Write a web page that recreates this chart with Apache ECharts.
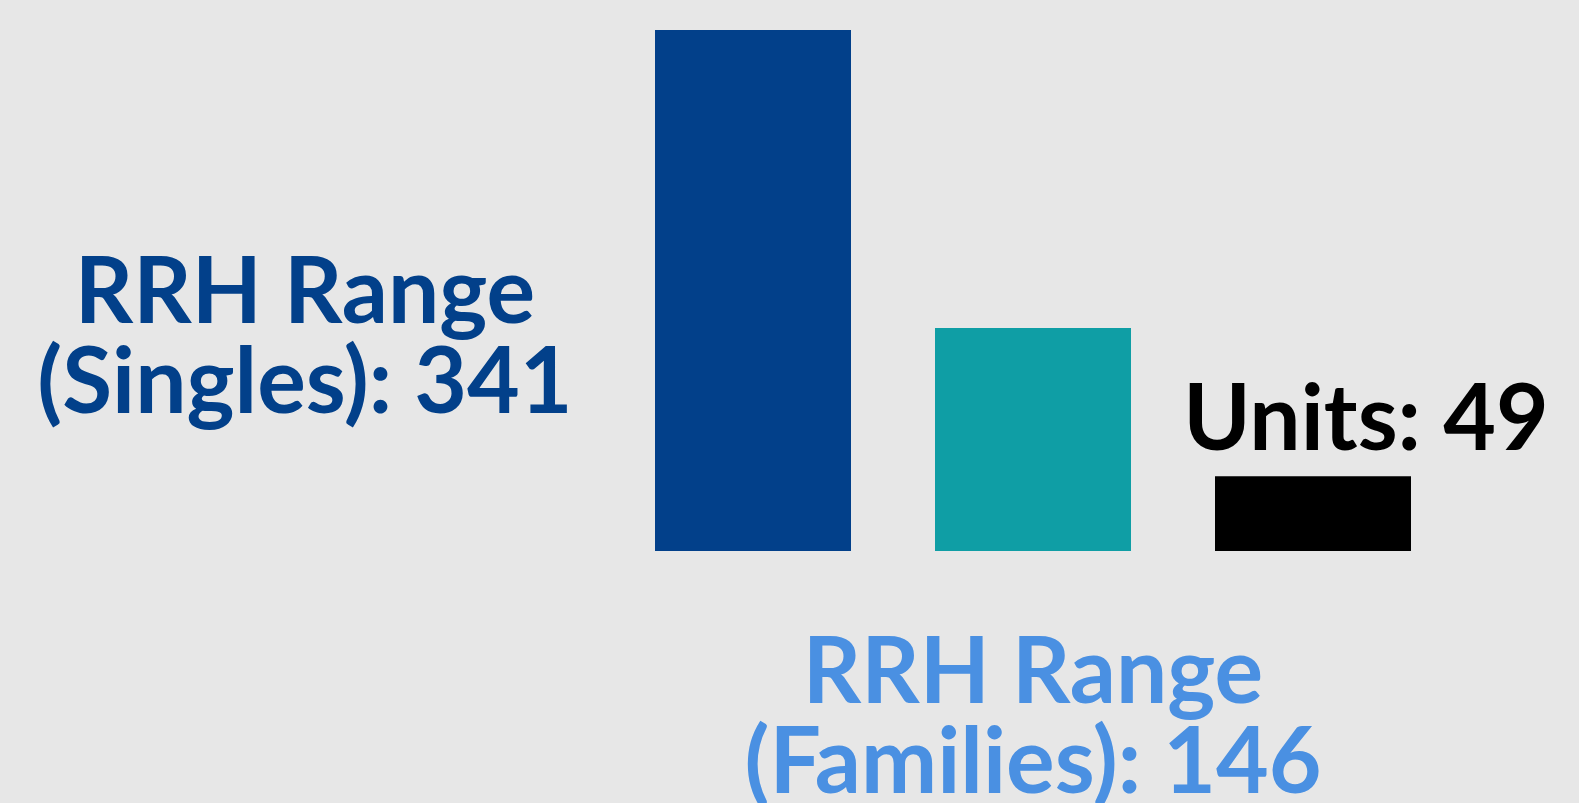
<!DOCTYPE html>
<html>
<head>
<meta charset="utf-8">
<script src="https://cdn.jsdelivr.net/npm/echarts@6/dist/echarts.min.js"></script>
<style>
html,body{margin:0;padding:0;background:#e7e7e7;}
#chart{width:1579px;height:803px;}
</style>
</head>
<body>
<div id="chart"></div>
<script>
const categories = ['RRH Range (Singles)', 'RRH Range (Families)', 'Units'];
const labelNames = ['RRH Range\n(Singles)', 'RRH Range\n(Families)', 'Units'];
const values = [341, 146, 49];
const barColors = ['#02408a', '#0f9ea5', '#000000'];
const labelColors = ['#02408a', '#4a90e2', '#000000'];
const labelOffsets = [[-350, 309], [98, 391], [151, -55]];

const chart = echarts.init(document.getElementById('chart'));
chart.setOption({
  backgroundColor: '#e7e7e7',
  animation: false,
  grid: {left: 613, right: 126, top: 30, bottom: 252},
  xAxis: {type: 'category', data: categories, show: false},
  yAxis: {type: 'value', min: 0, max: 341, show: false},
  series: [{
    type: 'bar',
    barWidth: 196,
    data: values.map((v, i) => ({
      value: v,
      itemStyle: {color: barColors[i]},
      label: {
        show: true,
        position: labelOffsets[i],
        align: 'center',
        verticalAlign: 'middle',
        color: labelColors[i],
        fontFamily: 'Lato',
        fontWeight: 'bold',
        fontSize: 91,
        lineHeight: 90,
        formatter: () => labelNames[i] + ': ' + v
      }
    }))
  }]
});
</script>
</body>
</html>
